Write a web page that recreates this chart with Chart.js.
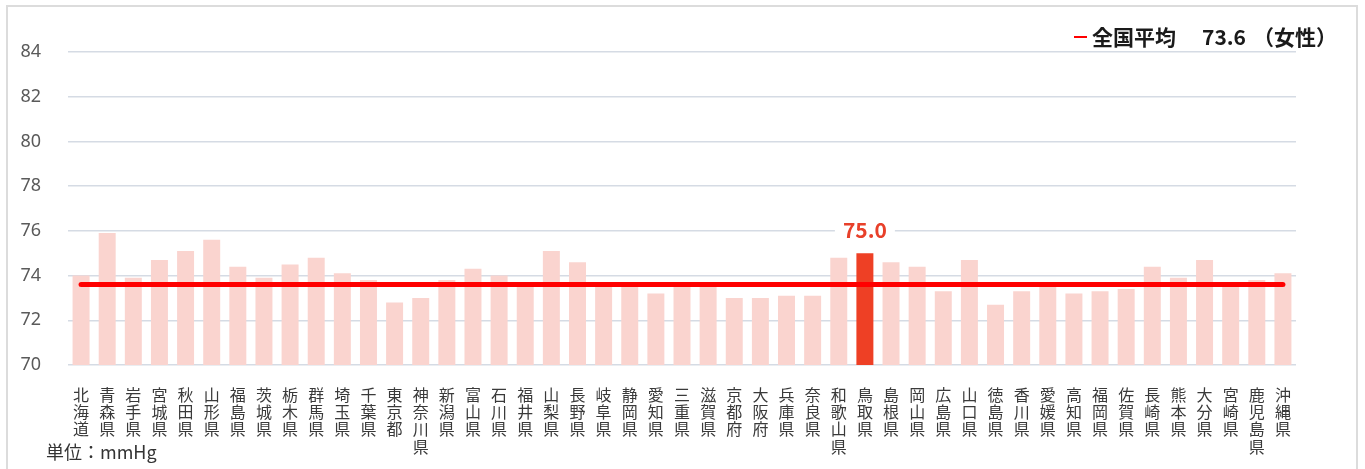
<!DOCTYPE html>
<html>
<head>
<meta charset="utf-8">
<script src="https://cdn.jsdelivr.net/npm/chart.js@4"></script>
<style>
  html, body { margin: 0; padding: 0; background: #fff; }
  #wrap { position: relative; width: 1365px; height: 469px; overflow: hidden; }
  #frame { position: absolute; left: 6px; top: 5px; width: 1352px; height: 480px; border: 2px solid #dcdcdc; box-sizing: border-box; }
  canvas { position: absolute; left: 0; top: 0; }
  #unit { position: absolute; left: 46px; top: 440px; font: 18px "Noto Sans CJK JP", "Noto Sans", sans-serif; color: #333; line-height: 22px; }
</style>
</head>
<body>
<div id="wrap">
  <div id="frame"></div>
  <canvas id="c" width="1365" height="469"></canvas>
  <div id="unit">単位：mmHg</div>
</div>
<script>
const prefectures = ["北海道","青森県","岩手県","宮城県","秋田県","山形県","福島県","茨城県","栃木県","群馬県","埼玉県","千葉県","東京都","神奈川県","新潟県","富山県","石川県","福井県","山梨県","長野県","岐阜県","静岡県","愛知県","三重県","滋賀県","京都府","大阪府","兵庫県","奈良県","和歌山県","鳥取県","島根県","岡山県","広島県","山口県","徳島県","香川県","愛媛県","高知県","福岡県","佐賀県","長崎県","熊本県","大分県","宮崎県","鹿児島県","沖縄県"];
const bloodPressure = [74.0,75.9,73.9,74.7,75.1,75.6,74.4,73.9,74.5,74.8,74.1,73.8,72.8,73.0,73.8,74.3,74.0,73.7,75.1,74.6,73.7,73.5,73.2,73.5,73.5,73.0,73.0,73.1,73.1,74.8,75.0,74.6,74.4,73.3,74.7,72.7,73.3,73.7,73.2,73.3,73.4,74.4,73.9,74.7,73.6,73.8,74.1];
const nationalAverage = 73.6;
const highlightPref = "鳥取県";
const legendParts = ["全国平均", "73.6", "（女性）"];
const yTicks = [70,72,74,76,78,80,82,84];

const FONT = '"Noto Sans CJK JP", "Noto Sans", sans-serif';
const hiIdx = prefectures.indexOf(highlightPref);
const barColors = prefectures.map(p => p === highlightPref ? '#ee4025' : '#fad4cf');
const avgSeries = prefectures.map(() => nationalAverage);
const verticalLabels = prefectures.map(p => p.split(''));

const overlay = {
  id: 'overlay',
  afterDatasetsDraw(chart) {
    const ctx = chart.ctx;
    const bar = chart.getDatasetMeta(1).data[hiIdx];
    const txt = bloodPressure[hiIdx].toFixed(1);
    ctx.save();
    ctx.font = 'bold 21px ' + FONT;
    const w = ctx.measureText(txt).width;
    const cy = bar.y - 23;
    ctx.fillStyle = '#ffffff';
    ctx.fillRect(bar.x - w/2 - 8, cy - 13, w + 16, 26);
    ctx.fillStyle = '#e8402a';
    ctx.textAlign = 'center';
    ctx.textBaseline = 'middle';
    ctx.fillText(txt, bar.x, cy);
    // legend
    const ly = 37;
    ctx.strokeStyle = '#ff0000';
    ctx.lineWidth = 2;
    ctx.beginPath(); ctx.moveTo(1074, ly); ctx.lineTo(1087, ly); ctx.stroke();
    ctx.font = 'bold 21px ' + FONT;
    ctx.fillStyle = '#1a1a1a';
    ctx.textAlign = 'left';
    ctx.fillText(legendParts[0], 1092, ly);
    ctx.fillText(legendParts[1], 1202, ly);
    ctx.fillText(legendParts[2], 1253, ly);
    ctx.restore();
  }
};

new Chart(document.getElementById('c'), {
  data: {
    labels: verticalLabels,
    datasets: [
      { type: 'line', label: legendParts.join(' '), data: avgSeries, borderColor: '#ff0000', borderWidth: 5,
        pointRadius: 0, borderCapStyle: 'round', order: 0 },
      { type: 'bar', label: '血圧', data: bloodPressure, backgroundColor: barColors,
        categoryPercentage: 1, barPercentage: 0.65, order: 1 }
    ]
  },
  options: {
    responsive: false,
    animation: false,
    events: [],
    layout: { padding: { left: 0, right: 69, top: 52, bottom: 0 } },
    plugins: { legend: { display: false }, tooltip: { enabled: false } },
    scales: {
      x: {
        grid: { display: false },
        border: { display: false },
        ticks: { maxRotation: 0, minRotation: 0, autoSkip: false, padding: 13, color: '#3a3a3a',
          font: { family: FONT, size: 16, lineHeight: 1.08 } },
        afterFit(s) { s.height = 104; }
      },
      y: {
        min: 70, max: 84,
        afterBuildTicks(s) { s.ticks = yTicks.map(v => ({ value: v })); },
        grid: { color: '#d5dbe4', lineWidth: 1.5, drawTicks: false },
        border: { display: false },
        ticks: { padding: 27, color: '#5a5a5a', font: { family: '"Noto Sans", sans-serif', size: 18 } },
        afterFit(s) { s.width = 68; }
      }
    }
  },
  plugins: [overlay]
});
</script>
</body>
</html>
